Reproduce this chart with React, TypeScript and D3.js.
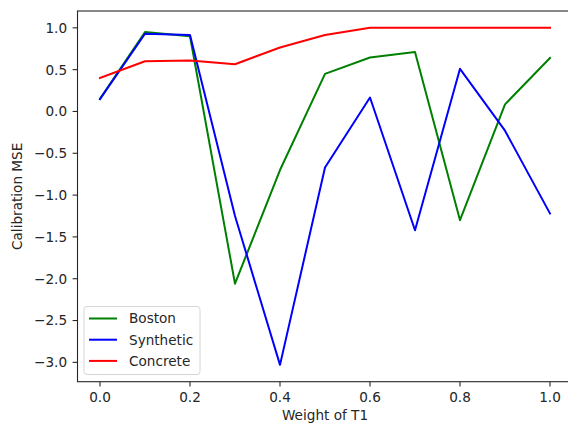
import React from "react";
import * as d3 from "d3";

const weights = [0.0, 0.1, 0.2, 0.3, 0.4, 0.5, 0.6, 0.7, 0.8, 0.9, 1.0];
const boston = [0.15, 0.95, 0.9, -2.06, -0.7, 0.45, 0.645, 0.71, -1.3, 0.085, 0.64];
const synthetic = [0.147, 0.93, 0.915, -1.25, -3.03, -0.67, 0.167, -1.42, 0.51, -0.23, -1.22];
const concrete = [0.4, 0.6, 0.61, 0.565, 0.765, 0.915, 1.0, 1.0, 1.0, 1.0, 1.0];
const xTicks = [0.0, 0.2, 0.4, 0.6, 0.8, 1.0];
const yTicks = [1.0, 0.5, 0.0, -0.5, -1.0, -1.5, -2.0, -2.5, -3.0];
const seriesNames = ["Boston", "Synthetic", "Concrete"];
const seriesColors = ["#008000", "#0000ff", "#ff0000"];

const W = 568;
const H = 423;
const left = 77.5;
const right = 572.5;
const top = 11;
const bottom = 381.7;
const font = "DejaVu Sans, sans-serif";

export default function App() {
  const all = [...boston, ...synthetic, ...concrete];
  const yMin = d3.min(all) as number;
  const yMax = d3.max(all) as number;
  const yPad = (yMax - yMin) * 0.05;
  const x = d3.scaleLinear().domain([-0.05, 1.05]).range([left, right]);
  const y = d3.scaleLinear().domain([yMin - yPad, yMax + yPad]).range([bottom, top]);
  const series = [boston, synthetic, concrete];
  const line = d3
    .line<number>()
    .x((_, i) => x(weights[i]))
    .y((d) => y(d));
  const fmt = d3.format(".1f");
  const minus = (v: number) => fmt(v).replace("-", "\u2212");
  const tick = 4.9;
  const ink = "#262626";

  return (
    <svg
      width={W}
      height={H}
      style={{ position: "absolute", left: 0, top: 0, background: "#fff" }}
      fontFamily={font}
    >
      <rect x={0} y={0} width={W} height={H} fill="#fff" />
      <defs>
        <clipPath id="plot">
          <rect x={left} y={top} width={right - left} height={bottom - top} />
        </clipPath>
      </defs>
      <g clipPath="url(#plot)">
        {series.map((s, i) => (
          <path
            key={seriesNames[i]}
            d={line(s) || ""}
            fill="none"
            stroke={seriesColors[i]}
            strokeWidth={2}
            strokeLinejoin="round"
            strokeLinecap="square"
          />
        ))}
      </g>
      {/* spines */}
      <rect x={left} y={top} width={right - left} height={bottom - top} fill="none" stroke={ink} strokeWidth={1.1} />
      {/* x ticks */}
      {xTicks.map((t) => (
        <g key={"x" + t}>
          <line x1={x(t)} x2={x(t)} y1={bottom} y2={bottom + tick} stroke={ink} strokeWidth={1.1} />
          <text x={x(t)} y={bottom + tick + 4.9 + 10.2} textAnchor="middle" fontSize={13.6} fill={ink}>
            {fmt(t)}
          </text>
        </g>
      ))}
      {/* y ticks */}
      {yTicks.map((t) => (
        <g key={"y" + t}>
          <line x1={left - tick} x2={left} y1={y(t)} y2={y(t)} stroke={ink} strokeWidth={1.1} />
          <text x={left - tick - 5.5} y={y(t)} dy="0.36em" textAnchor="end" fontSize={13.6} fill={ink}>
            {minus(t)}
          </text>
        </g>
      ))}
      <text x={(left + right) / 2} y={420} textAnchor="middle" fontSize={13.6} fill={ink}>
        Weight of T1
      </text>
      <text
        transform={`translate(22, ${(top + bottom) / 2}) rotate(-90)`}
        textAnchor="middle"
        fontSize={13.6}
        fill={ink}
      >
        Calibration MSE
      </text>
      {/* legend */}
      <rect x={84} y={306.5} width={116} height={68} rx={3} fill="#fff" fillOpacity={0.8} stroke="#d6d6d6" strokeWidth={1} />
      {seriesNames.map((n, i) => {
        const ly = 318.5 + i * 21.2;
        return (
          <g key={"leg" + n}>
            <line x1={89} x2={117} y1={ly} y2={ly} stroke={seriesColors[i]} strokeWidth={2} />
            <text x={129} y={ly} dy="0.36em" fontSize={13.6} fill={ink}>
              {n}
            </text>
          </g>
        );
      })}
    </svg>
  );
}
